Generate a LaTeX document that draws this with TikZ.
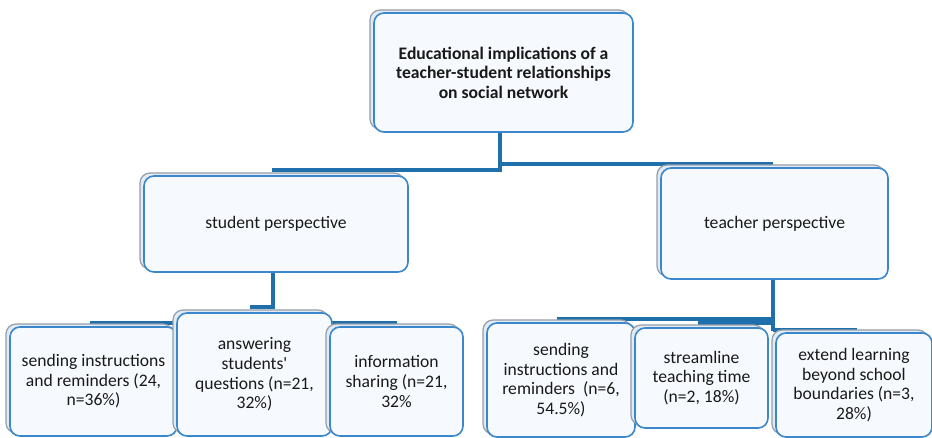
\documentclass[tikz,border=0pt]{standalone}
\usepackage{fontspec}
\setmainfont{Carlito}
\newfontfamily\plainquote{Carlito}[Ligatures=ResetAll]
\definecolor{linkblue}{RGB}{31,111,170}
\definecolor{boxblue}{RGB}{58,135,204}
\definecolor{boxfill}{RGB}{246,249,253}
\definecolor{shadegray}{RGB}{150,158,170}
\definecolor{shadefill}{RGB}{226,234,244}
\tikzset{
  link/.style={draw=linkblue, line width=4.5pt},
  thinlink/.style={draw=linkblue, line width=4pt},
  cardback/.style={draw=shadegray, fill=shadefill, line width=1.2pt, rounded corners=10pt},
  card/.style={draw=boxblue, fill=boxfill, line width=1.6pt, rounded corners=10pt,
    align=center, inner sep=0pt, text=black!90, font=\fontsize{17.6}{19.6}\selectfont},
}
\newcommand{\cardat}[6]{% name, x1, y1, x2, y2, text
  \path[cardback] (#2-4,#3-3) rectangle (#4-4,#5-3);
  \node[card, minimum width=#4-#2, minimum height=#5-#3] (#1) at ({(#2+#4)/2},{(#3+#5)/2}) {#6};
}
\begin{document}
\begin{tikzpicture}[x=1pt,y=-1pt]
\useasboundingbox (0,0) rectangle (932,437);
\fill[white] (0,0) rectangle (932,437);

% connectors (drawn first, boxes cover them)
\coordinate (j0) at (500,170);
\coordinate (jl) at (272,170);
\coordinate (jr0) at (500,164);
\coordinate (jr) at (773,164);
\coordinate (sj) at (273,308);
\coordinate (sjl) at (250,307);
\coordinate (sjr) at (275,307);
\coordinate (sh1) at (90,323);
\coordinate (sh2) at (397,323);
\coordinate (tj) at (773,331);
\coordinate (th1) at (557,319);
\coordinate (th1e) at (773,319);
\coordinate (th2) at (698,323);
\coordinate (th2e) at (773,323);
\coordinate (th3) at (773,330);
\coordinate (th3e) at (857,330);
\coordinate (ttop) at (500,132);
\coordinate (stop) at (273,272);
\coordinate (tetop) at (773,279);

\draw[link] (ttop) -- (500,172);
\draw[link] (j0) -- (jl);
\draw[link] (jr0) -- (jr);
\draw[thinlink] (stop) -- (sj);
\draw[thinlink] (sjl) -- (sjr);
\draw[thinlink] (sh1) -- (sh2);
\draw[thinlink] (tetop) -- (tj);
\draw[thinlink] (th1) -- (th1e);
\draw[thinlink] (th2) -- (th2e);
\draw[thinlink] (th3) -- (th3e);

% boxes
\cardat{top}{374}{13}{633}{132}{\bfseries Educational implications of a\\\bfseries teacher-student relationships\\\bfseries on social network}
\cardat{stu}{144}{176}{408}{272}{student perspective}
\cardat{tea}{661}{168}{888}{279}{teacher perspective}

\cardat{s1}{10}{327}{177}{436}{sending instructions\\and reminders (24,\\n=36\%)}
\cardat{s2}{177}{313}{332}{436}{answering\\{\plainquote students'}\\questions (n=21,\\32\%)}
\cardat{s3}{330}{327}{463}{436}{information\\sharing (n=21,\\32\%}

\cardat{t1}{487}{323}{635}{437}{sending\\instructions and\\reminders\ \ (n=6,\\54.5\%)}
\cardat{t2}{635}{328}{768}{428}{streamline\\teaching time\\(n=2, 18\%)}
\cardat{t3}{776}{333}{932}{437}{extend learning\\beyond school\\boundaries (n=3,\\28\%)}
\end{tikzpicture}
\end{document}
